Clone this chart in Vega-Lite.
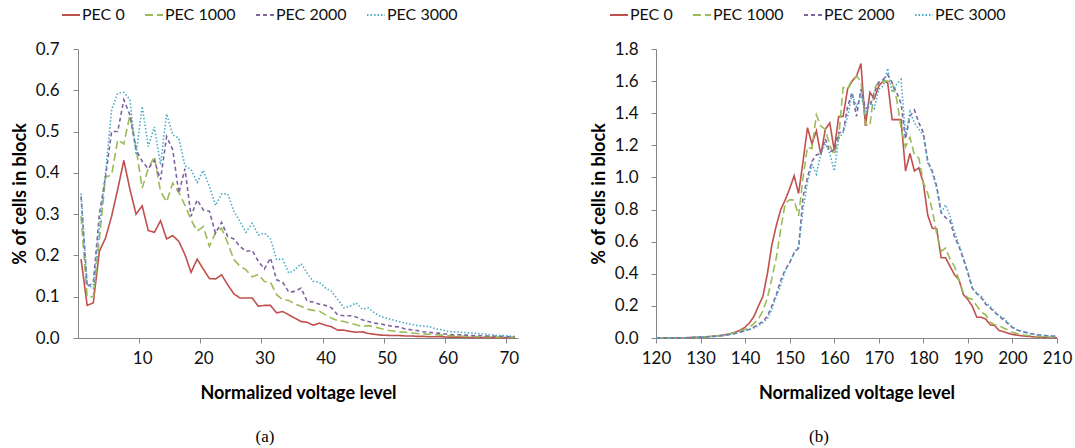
{
  "$schema": "https://vega.github.io/schema/vega-lite/v6.json",
  "background": "white",
  "padding": {"left": 11, "top": 5, "right": 3, "bottom": 2},
  "spacing": 71,
  "config": {
    "view": {"stroke": null},
    "font": "Lato",
    "axis": {
      "grid": false,
      "domainColor": "#868686",
      "tickColor": "#868686",
      "tickSize": 5,
      "labelFont": "Lato",
      "labelFontSize": 17,
      "labelColor": "#111111",
      "labelFlush": false,
      "titleFont": "Lato",
      "titleFontSize": 18,
      "titleFontWeight": "bold",
      "titleColor": "#000000"
    },
    "legend": {
      "labelFont": "Lato",
      "labelFontSize": 16,
      "labelColor": "#111111"
    }
  },
  "resolve": {
    "scale": {"color": "independent", "strokeDash": "independent"},
    "legend": {"color": "independent", "strokeDash": "independent"}
  },
  "datasets": {
    "a": [
      {"level": 0, "PEC 0": 0.191, "PEC 1000": 0.295, "PEC 2000": 0.343, "PEC 3000": 0.35},
      {"level": 1, "PEC 0": 0.079, "PEC 1000": 0.10, "PEC 2000": 0.125, "PEC 3000": 0.13},
      {"level": 2, "PEC 0": 0.085, "PEC 1000": 0.10, "PEC 2000": 0.133, "PEC 3000": 0.12},
      {"level": 3, "PEC 0": 0.21, "PEC 1000": 0.24, "PEC 2000": 0.30, "PEC 3000": 0.27},
      {"level": 4, "PEC 0": 0.242, "PEC 1000": 0.39, "PEC 2000": 0.39, "PEC 3000": 0.40},
      {"level": 5, "PEC 0": 0.295, "PEC 1000": 0.395, "PEC 2000": 0.50, "PEC 3000": 0.553},
      {"level": 6, "PEC 0": 0.36, "PEC 1000": 0.48, "PEC 2000": 0.50, "PEC 3000": 0.593},
      {"level": 7, "PEC 0": 0.43, "PEC 1000": 0.47, "PEC 2000": 0.577, "PEC 3000": 0.595},
      {"level": 8, "PEC 0": 0.36, "PEC 1000": 0.54, "PEC 2000": 0.54, "PEC 3000": 0.577},
      {"level": 9, "PEC 0": 0.30, "PEC 1000": 0.46, "PEC 2000": 0.456, "PEC 3000": 0.444},
      {"level": 10, "PEC 0": 0.32, "PEC 1000": 0.363, "PEC 2000": 0.428, "PEC 3000": 0.561},
      {"level": 11, "PEC 0": 0.26, "PEC 1000": 0.41, "PEC 2000": 0.41, "PEC 3000": 0.464},
      {"level": 12, "PEC 0": 0.256, "PEC 1000": 0.44, "PEC 2000": 0.43, "PEC 3000": 0.511},
      {"level": 13, "PEC 0": 0.284, "PEC 1000": 0.355, "PEC 2000": 0.383, "PEC 3000": 0.42},
      {"level": 14, "PEC 0": 0.24, "PEC 1000": 0.33, "PEC 2000": 0.488, "PEC 3000": 0.543},
      {"level": 15, "PEC 0": 0.248, "PEC 1000": 0.375, "PEC 2000": 0.456, "PEC 3000": 0.492},
      {"level": 16, "PEC 0": 0.234, "PEC 1000": 0.352, "PEC 2000": 0.351, "PEC 3000": 0.484},
      {"level": 17, "PEC 0": 0.202, "PEC 1000": 0.322, "PEC 2000": 0.41, "PEC 3000": 0.417},
      {"level": 18, "PEC 0": 0.159, "PEC 1000": 0.286, "PEC 2000": 0.295, "PEC 3000": 0.408},
      {"level": 19, "PEC 0": 0.191, "PEC 1000": 0.259, "PEC 2000": 0.335, "PEC 3000": 0.377},
      {"level": 20, "PEC 0": 0.167, "PEC 1000": 0.27, "PEC 2000": 0.31, "PEC 3000": 0.406},
      {"level": 21, "PEC 0": 0.144, "PEC 1000": 0.222, "PEC 2000": 0.307, "PEC 3000": 0.367},
      {"level": 22, "PEC 0": 0.143, "PEC 1000": 0.255, "PEC 2000": 0.254, "PEC 3000": 0.321},
      {"level": 23, "PEC 0": 0.153, "PEC 1000": 0.266, "PEC 2000": 0.28, "PEC 3000": 0.349},
      {"level": 24, "PEC 0": 0.129, "PEC 1000": 0.23, "PEC 2000": 0.246, "PEC 3000": 0.349},
      {"level": 25, "PEC 0": 0.107, "PEC 1000": 0.19, "PEC 2000": 0.24, "PEC 3000": 0.307},
      {"level": 26, "PEC 0": 0.097, "PEC 1000": 0.174, "PEC 2000": 0.222, "PEC 3000": 0.282},
      {"level": 27, "PEC 0": 0.097, "PEC 1000": 0.165, "PEC 2000": 0.21, "PEC 3000": 0.256},
      {"level": 28, "PEC 0": 0.097, "PEC 1000": 0.148, "PEC 2000": 0.212, "PEC 3000": 0.278},
      {"level": 29, "PEC 0": 0.077, "PEC 1000": 0.154, "PEC 2000": 0.186, "PEC 3000": 0.25},
      {"level": 30, "PEC 0": 0.079, "PEC 1000": 0.137, "PEC 2000": 0.167, "PEC 3000": 0.254},
      {"level": 31, "PEC 0": 0.079, "PEC 1000": 0.135, "PEC 2000": 0.194, "PEC 3000": 0.24},
      {"level": 32, "PEC 0": 0.061, "PEC 1000": 0.105, "PEC 2000": 0.141, "PEC 3000": 0.19},
      {"level": 33, "PEC 0": 0.064, "PEC 1000": 0.093, "PEC 2000": 0.135, "PEC 3000": 0.191},
      {"level": 34, "PEC 0": 0.056, "PEC 1000": 0.091, "PEC 2000": 0.111, "PEC 3000": 0.157},
      {"level": 35, "PEC 0": 0.048, "PEC 1000": 0.082, "PEC 2000": 0.113, "PEC 3000": 0.165},
      {"level": 36, "PEC 0": 0.040, "PEC 1000": 0.077, "PEC 2000": 0.121, "PEC 3000": 0.18},
      {"level": 37, "PEC 0": 0.038, "PEC 1000": 0.070, "PEC 2000": 0.089, "PEC 3000": 0.157},
      {"level": 38, "PEC 0": 0.031, "PEC 1000": 0.067, "PEC 2000": 0.087, "PEC 3000": 0.137},
      {"level": 39, "PEC 0": 0.036, "PEC 1000": 0.065, "PEC 2000": 0.082, "PEC 3000": 0.135},
      {"level": 40, "PEC 0": 0.031, "PEC 1000": 0.056, "PEC 2000": 0.079, "PEC 3000": 0.121},
      {"level": 41, "PEC 0": 0.027, "PEC 1000": 0.048, "PEC 2000": 0.073, "PEC 3000": 0.113},
      {"level": 42, "PEC 0": 0.019, "PEC 1000": 0.042, "PEC 2000": 0.056, "PEC 3000": 0.093},
      {"level": 43, "PEC 0": 0.019, "PEC 1000": 0.040, "PEC 2000": 0.054, "PEC 3000": 0.073},
      {"level": 44, "PEC 0": 0.016, "PEC 1000": 0.036, "PEC 2000": 0.054, "PEC 3000": 0.077},
      {"level": 45, "PEC 0": 0.014, "PEC 1000": 0.032, "PEC 2000": 0.051, "PEC 3000": 0.085},
      {"level": 46, "PEC 0": 0.015, "PEC 1000": 0.028, "PEC 2000": 0.044, "PEC 3000": 0.070},
      {"level": 47, "PEC 0": 0.011, "PEC 1000": 0.030, "PEC 2000": 0.040, "PEC 3000": 0.073},
      {"level": 48, "PEC 0": 0.009, "PEC 1000": 0.027, "PEC 2000": 0.036, "PEC 3000": 0.061},
      {"level": 49, "PEC 0": 0.007, "PEC 1000": 0.023, "PEC 2000": 0.034, "PEC 3000": 0.052},
      {"level": 50, "PEC 0": 0.0065, "PEC 1000": 0.019, "PEC 2000": 0.031, "PEC 3000": 0.048},
      {"level": 51, "PEC 0": 0.006, "PEC 1000": 0.017, "PEC 2000": 0.028, "PEC 3000": 0.044},
      {"level": 52, "PEC 0": 0.006, "PEC 1000": 0.015, "PEC 2000": 0.027, "PEC 3000": 0.040},
      {"level": 53, "PEC 0": 0.005, "PEC 1000": 0.014, "PEC 2000": 0.022, "PEC 3000": 0.036},
      {"level": 54, "PEC 0": 0.005, "PEC 1000": 0.012, "PEC 2000": 0.020, "PEC 3000": 0.033},
      {"level": 55, "PEC 0": 0.004, "PEC 1000": 0.011, "PEC 2000": 0.018, "PEC 3000": 0.030},
      {"level": 56, "PEC 0": 0.004, "PEC 1000": 0.010, "PEC 2000": 0.015, "PEC 3000": 0.029},
      {"level": 57, "PEC 0": 0.003, "PEC 1000": 0.009, "PEC 2000": 0.014, "PEC 3000": 0.028},
      {"level": 58, "PEC 0": 0.003, "PEC 1000": 0.008, "PEC 2000": 0.012, "PEC 3000": 0.022},
      {"level": 59, "PEC 0": 0.003, "PEC 1000": 0.007, "PEC 2000": 0.011, "PEC 3000": 0.020},
      {"level": 60, "PEC 0": 0.002, "PEC 1000": 0.006, "PEC 2000": 0.009, "PEC 3000": 0.016},
      {"level": 61, "PEC 0": 0.002, "PEC 1000": 0.005, "PEC 2000": 0.008, "PEC 3000": 0.015},
      {"level": 62, "PEC 0": 0.002, "PEC 1000": 0.005, "PEC 2000": 0.008, "PEC 3000": 0.014},
      {"level": 63, "PEC 0": 0.002, "PEC 1000": 0.004, "PEC 2000": 0.007, "PEC 3000": 0.013},
      {"level": 64, "PEC 0": 0.001, "PEC 1000": 0.004, "PEC 2000": 0.006, "PEC 3000": 0.012},
      {"level": 65, "PEC 0": 0.001, "PEC 1000": 0.003, "PEC 2000": 0.006, "PEC 3000": 0.011},
      {"level": 66, "PEC 0": 0.001, "PEC 1000": 0.003, "PEC 2000": 0.005, "PEC 3000": 0.010},
      {"level": 67, "PEC 0": 0.001, "PEC 1000": 0.003, "PEC 2000": 0.005, "PEC 3000": 0.008},
      {"level": 68, "PEC 0": 0.001, "PEC 1000": 0.002, "PEC 2000": 0.004, "PEC 3000": 0.006},
      {"level": 69, "PEC 0": 0.001, "PEC 1000": 0.002, "PEC 2000": 0.004, "PEC 3000": 0.006},
      {"level": 70, "PEC 0": 0.001, "PEC 1000": 0.002, "PEC 2000": 0.003, "PEC 3000": 0.005},
      {"level": 71, "PEC 0": 0.001, "PEC 1000": 0.002, "PEC 2000": 0.003, "PEC 3000": 0.004}
    ],
    "b": [
      {"level": 120, "PEC 0": 0, "PEC 1000": 0, "PEC 2000": 0, "PEC 3000": 0},
      {"level": 121, "PEC 0": 0, "PEC 1000": 0, "PEC 2000": 0, "PEC 3000": 0},
      {"level": 122, "PEC 0": 0, "PEC 1000": 0, "PEC 2000": 0, "PEC 3000": 0},
      {"level": 123, "PEC 0": 0, "PEC 1000": 0, "PEC 2000": 0, "PEC 3000": 0},
      {"level": 124, "PEC 0": 0.001, "PEC 1000": 0.001, "PEC 2000": 0.001, "PEC 3000": 0.001},
      {"level": 125, "PEC 0": 0.001, "PEC 1000": 0.001, "PEC 2000": 0.001, "PEC 3000": 0.001},
      {"level": 126, "PEC 0": 0.002, "PEC 1000": 0.002, "PEC 2000": 0.001, "PEC 3000": 0.001},
      {"level": 127, "PEC 0": 0.002, "PEC 1000": 0.002, "PEC 2000": 0.002, "PEC 3000": 0.002},
      {"level": 128, "PEC 0": 0.003, "PEC 1000": 0.003, "PEC 2000": 0.003, "PEC 3000": 0.003},
      {"level": 129, "PEC 0": 0.004, "PEC 1000": 0.004, "PEC 2000": 0.004, "PEC 3000": 0.004},
      {"level": 130, "PEC 0": 0.005, "PEC 1000": 0.005, "PEC 2000": 0.005, "PEC 3000": 0.005},
      {"level": 131, "PEC 0": 0.007, "PEC 1000": 0.007, "PEC 2000": 0.006, "PEC 3000": 0.006},
      {"level": 132, "PEC 0": 0.009, "PEC 1000": 0.009, "PEC 2000": 0.008, "PEC 3000": 0.008},
      {"level": 133, "PEC 0": 0.011, "PEC 1000": 0.012, "PEC 2000": 0.010, "PEC 3000": 0.010},
      {"level": 134, "PEC 0": 0.014, "PEC 1000": 0.015, "PEC 2000": 0.012, "PEC 3000": 0.012},
      {"level": 135, "PEC 0": 0.018, "PEC 1000": 0.019, "PEC 2000": 0.015, "PEC 3000": 0.015},
      {"level": 136, "PEC 0": 0.023, "PEC 1000": 0.024, "PEC 2000": 0.019, "PEC 3000": 0.019},
      {"level": 137, "PEC 0": 0.030, "PEC 1000": 0.030, "PEC 2000": 0.024, "PEC 3000": 0.024},
      {"level": 138, "PEC 0": 0.038, "PEC 1000": 0.037, "PEC 2000": 0.030, "PEC 3000": 0.030},
      {"level": 139, "PEC 0": 0.050, "PEC 1000": 0.045, "PEC 2000": 0.037, "PEC 3000": 0.037},
      {"level": 140, "PEC 0": 0.068, "PEC 1000": 0.055, "PEC 2000": 0.045, "PEC 3000": 0.045},
      {"level": 141, "PEC 0": 0.095, "PEC 1000": 0.068, "PEC 2000": 0.055, "PEC 3000": 0.052},
      {"level": 142, "PEC 0": 0.135, "PEC 1000": 0.09, "PEC 2000": 0.068, "PEC 3000": 0.063},
      {"level": 143, "PEC 0": 0.20, "PEC 1000": 0.12, "PEC 2000": 0.085, "PEC 3000": 0.078},
      {"level": 144, "PEC 0": 0.26, "PEC 1000": 0.17, "PEC 2000": 0.105, "PEC 3000": 0.095},
      {"level": 145, "PEC 0": 0.40, "PEC 1000": 0.25, "PEC 2000": 0.135, "PEC 3000": 0.12},
      {"level": 146, "PEC 0": 0.58, "PEC 1000": 0.37, "PEC 2000": 0.20, "PEC 3000": 0.18},
      {"level": 147, "PEC 0": 0.70, "PEC 1000": 0.50, "PEC 2000": 0.27, "PEC 3000": 0.26},
      {"level": 148, "PEC 0": 0.80, "PEC 1000": 0.68, "PEC 2000": 0.36, "PEC 3000": 0.33},
      {"level": 149, "PEC 0": 0.86, "PEC 1000": 0.84, "PEC 2000": 0.425, "PEC 3000": 0.42},
      {"level": 150, "PEC 0": 0.93, "PEC 1000": 0.86, "PEC 2000": 0.47, "PEC 3000": 0.47},
      {"level": 151, "PEC 0": 1.01, "PEC 1000": 0.86, "PEC 2000": 0.53, "PEC 3000": 0.53},
      {"level": 152, "PEC 0": 0.90, "PEC 1000": 0.76, "PEC 2000": 0.56, "PEC 3000": 0.57},
      {"level": 153, "PEC 0": 1.10, "PEC 1000": 1.00, "PEC 2000": 0.88, "PEC 3000": 0.80},
      {"level": 154, "PEC 0": 1.31, "PEC 1000": 1.19, "PEC 2000": 1.00, "PEC 3000": 0.97},
      {"level": 155, "PEC 0": 1.21, "PEC 1000": 1.18, "PEC 2000": 1.10, "PEC 3000": 1.08},
      {"level": 156, "PEC 0": 1.29, "PEC 1000": 1.39, "PEC 2000": 1.14, "PEC 3000": 1.02},
      {"level": 157, "PEC 0": 1.14, "PEC 1000": 1.32, "PEC 2000": 1.15, "PEC 3000": 1.15},
      {"level": 158, "PEC 0": 1.30, "PEC 1000": 1.30, "PEC 2000": 1.24, "PEC 3000": 1.21},
      {"level": 159, "PEC 0": 1.34, "PEC 1000": 1.20, "PEC 2000": 1.16, "PEC 3000": 1.15},
      {"level": 160, "PEC 0": 1.17, "PEC 1000": 1.14, "PEC 2000": 1.17, "PEC 3000": 1.04},
      {"level": 161, "PEC 0": 1.38, "PEC 1000": 1.25, "PEC 2000": 1.28, "PEC 3000": 1.24},
      {"level": 162, "PEC 0": 1.38, "PEC 1000": 1.56, "PEC 2000": 1.28, "PEC 3000": 1.28},
      {"level": 163, "PEC 0": 1.55, "PEC 1000": 1.55, "PEC 2000": 1.44, "PEC 3000": 1.38},
      {"level": 164, "PEC 0": 1.60, "PEC 1000": 1.61, "PEC 2000": 1.53, "PEC 3000": 1.52},
      {"level": 165, "PEC 0": 1.63, "PEC 1000": 1.63, "PEC 2000": 1.38, "PEC 3000": 1.44},
      {"level": 166, "PEC 0": 1.71, "PEC 1000": 1.60, "PEC 2000": 1.55, "PEC 3000": 1.52},
      {"level": 167, "PEC 0": 1.32, "PEC 1000": 1.33, "PEC 2000": 1.43, "PEC 3000": 1.39},
      {"level": 168, "PEC 0": 1.53, "PEC 1000": 1.32, "PEC 2000": 1.44, "PEC 3000": 1.48},
      {"level": 169, "PEC 0": 1.49, "PEC 1000": 1.55, "PEC 2000": 1.53, "PEC 3000": 1.43},
      {"level": 170, "PEC 0": 1.57, "PEC 1000": 1.60, "PEC 2000": 1.59, "PEC 3000": 1.55},
      {"level": 171, "PEC 0": 1.60, "PEC 1000": 1.60, "PEC 2000": 1.61, "PEC 3000": 1.57},
      {"level": 172, "PEC 0": 1.59, "PEC 1000": 1.60, "PEC 2000": 1.64, "PEC 3000": 1.68},
      {"level": 173, "PEC 0": 1.36, "PEC 1000": 1.59, "PEC 2000": 1.59, "PEC 3000": 1.53},
      {"level": 174, "PEC 0": 1.36, "PEC 1000": 1.49, "PEC 2000": 1.53, "PEC 3000": 1.58},
      {"level": 175, "PEC 0": 1.36, "PEC 1000": 1.31, "PEC 2000": 1.46, "PEC 3000": 1.61},
      {"level": 176, "PEC 0": 1.04, "PEC 1000": 1.19, "PEC 2000": 1.24, "PEC 3000": 1.26},
      {"level": 177, "PEC 0": 1.15, "PEC 1000": 1.25, "PEC 2000": 1.38, "PEC 3000": 1.41},
      {"level": 178, "PEC 0": 1.04, "PEC 1000": 1.14, "PEC 2000": 1.42, "PEC 3000": 1.34},
      {"level": 179, "PEC 0": 1.06, "PEC 1000": 1.12, "PEC 2000": 1.34, "PEC 3000": 1.30},
      {"level": 180, "PEC 0": 0.965, "PEC 1000": 0.97, "PEC 2000": 1.28, "PEC 3000": 1.26},
      {"level": 181, "PEC 0": 0.764, "PEC 1000": 0.90, "PEC 2000": 1.10, "PEC 3000": 1.09},
      {"level": 182, "PEC 0": 0.685, "PEC 1000": 0.80, "PEC 2000": 1.04, "PEC 3000": 1.03},
      {"level": 183, "PEC 0": 0.68, "PEC 1000": 0.65, "PEC 2000": 0.945, "PEC 3000": 0.93},
      {"level": 184, "PEC 0": 0.50, "PEC 1000": 0.54, "PEC 2000": 0.78, "PEC 3000": 0.78},
      {"level": 185, "PEC 0": 0.50, "PEC 1000": 0.56, "PEC 2000": 0.75, "PEC 3000": 0.83},
      {"level": 186, "PEC 0": 0.446, "PEC 1000": 0.49, "PEC 2000": 0.73, "PEC 3000": 0.76},
      {"level": 187, "PEC 0": 0.394, "PEC 1000": 0.446, "PEC 2000": 0.63, "PEC 3000": 0.66},
      {"level": 188, "PEC 0": 0.363, "PEC 1000": 0.36, "PEC 2000": 0.57, "PEC 3000": 0.58},
      {"level": 189, "PEC 0": 0.27, "PEC 1000": 0.28, "PEC 2000": 0.49, "PEC 3000": 0.50},
      {"level": 190, "PEC 0": 0.239, "PEC 1000": 0.25, "PEC 2000": 0.405, "PEC 3000": 0.415},
      {"level": 191, "PEC 0": 0.197, "PEC 1000": 0.24, "PEC 2000": 0.31, "PEC 3000": 0.31},
      {"level": 192, "PEC 0": 0.129, "PEC 1000": 0.20, "PEC 2000": 0.276, "PEC 3000": 0.28},
      {"level": 193, "PEC 0": 0.129, "PEC 1000": 0.16, "PEC 2000": 0.25, "PEC 3000": 0.26},
      {"level": 194, "PEC 0": 0.118, "PEC 1000": 0.145, "PEC 2000": 0.21, "PEC 3000": 0.22},
      {"level": 195, "PEC 0": 0.083, "PEC 1000": 0.098, "PEC 2000": 0.187, "PEC 3000": 0.197},
      {"level": 196, "PEC 0": 0.077, "PEC 1000": 0.083, "PEC 2000": 0.16, "PEC 3000": 0.166},
      {"level": 197, "PEC 0": 0.046, "PEC 1000": 0.077, "PEC 2000": 0.135, "PEC 3000": 0.139},
      {"level": 198, "PEC 0": 0.040, "PEC 1000": 0.062, "PEC 2000": 0.114, "PEC 3000": 0.125},
      {"level": 199, "PEC 0": 0.030, "PEC 1000": 0.050, "PEC 2000": 0.090, "PEC 3000": 0.095},
      {"level": 200, "PEC 0": 0.022, "PEC 1000": 0.035, "PEC 2000": 0.065, "PEC 3000": 0.070},
      {"level": 201, "PEC 0": 0.018, "PEC 1000": 0.028, "PEC 2000": 0.050, "PEC 3000": 0.052},
      {"level": 202, "PEC 0": 0.014, "PEC 1000": 0.022, "PEC 2000": 0.042, "PEC 3000": 0.043},
      {"level": 203, "PEC 0": 0.011, "PEC 1000": 0.017, "PEC 2000": 0.035, "PEC 3000": 0.035},
      {"level": 204, "PEC 0": 0.009, "PEC 1000": 0.014, "PEC 2000": 0.028, "PEC 3000": 0.028},
      {"level": 205, "PEC 0": 0.007, "PEC 1000": 0.011, "PEC 2000": 0.022, "PEC 3000": 0.023},
      {"level": 206, "PEC 0": 0.005, "PEC 1000": 0.009, "PEC 2000": 0.019, "PEC 3000": 0.019},
      {"level": 207, "PEC 0": 0.004, "PEC 1000": 0.007, "PEC 2000": 0.016, "PEC 3000": 0.016},
      {"level": 208, "PEC 0": 0.003, "PEC 1000": 0.006, "PEC 2000": 0.014, "PEC 3000": 0.014},
      {"level": 209, "PEC 0": 0.002, "PEC 1000": 0.005, "PEC 2000": 0.012, "PEC 3000": 0.012},
      {"level": 210, "PEC 0": 0.002, "PEC 1000": 0.004, "PEC 2000": 0.010, "PEC 3000": 0.010}
    ]
  },
  "hconcat": [
    {
      "width": 440,
      "height": 289,
      "title": {"text": "(a)", "orient": "bottom", "frame": "bounds", "anchor": "middle", "font": "Liberation Serif", "fontSize": 17, "fontWeight": "normal", "color": "#000000", "offset": 27},
      "data": {"name": "a"},
      "transform": [{"fold": ["PEC 0", "PEC 1000", "PEC 2000", "PEC 3000"], "as": ["series", "pct"]}],
      "mark": {"type": "line", "strokeWidth": 1.6},
      "encoding": {
        "x": {"field": "level", "type": "quantitative",
              "scale": {"domain": [-0.5, 71.5], "nice": false, "zero": false},
              "axis": {"values": [10, 20, 30, 40, 50, 60, 70], "title": "Normalized voltage level", "labelPadding": 7, "titlePadding": 18, "tickOffset": -3, "labelOffset": 3}},
        "y": {"field": "pct", "type": "quantitative",
              "scale": {"domain": [0, 0.7], "nice": false},
              "axis": {"values": [0, 0.1, 0.2, 0.3, 0.4, 0.5, 0.6, 0.7], "format": ".1f", "title": "% of cells in block", "labelPadding": 14, "titlePadding": 6}},
        "color": {"field": "series", "type": "nominal",
                  "scale": {"domain": ["PEC 0", "PEC 1000", "PEC 2000", "PEC 3000"], "range": ["#C0504D", "#9BBB59", "#8064A2", "#4BACC6"]},
                  "legend": {"title": null, "orient": "none", "legendX": -17, "legendY": -44, "direction": "horizontal", "symbolType": "stroke", "symbolSize": 324, "symbolStrokeWidth": 2, "columnPadding": 16, "labelOffset": 1}},
        "strokeDash": {"field": "series", "type": "nominal",
                  "scale": {"domain": ["PEC 0", "PEC 1000", "PEC 2000", "PEC 3000"], "range": [[1, 0], [8, 4], [4, 3], [1.5, 2]]},
                  "legend": {"title": null, "orient": "none", "legendX": -17, "legendY": -44, "direction": "horizontal", "symbolType": "stroke", "symbolSize": 324, "symbolStrokeWidth": 2, "columnPadding": 16, "labelOffset": 1}}
      }
    },
    {
      "width": 401,
      "height": 289,
      "title": {"text": "(b)", "orient": "bottom", "frame": "bounds", "anchor": "middle", "font": "Liberation Serif", "fontSize": 17, "fontWeight": "normal", "color": "#000000", "offset": 27, "dx": -12},
      "data": {"name": "b"},
      "transform": [{"fold": ["PEC 0", "PEC 1000", "PEC 2000", "PEC 3000"], "as": ["series", "pct"]}],
      "mark": {"type": "line", "strokeWidth": 1.6},
      "encoding": {
        "x": {"field": "level", "type": "quantitative",
              "scale": {"domain": [120, 210], "nice": false, "zero": false},
              "axis": {"values": [120, 130, 140, 150, 160, 170, 180, 190, 200, 210], "title": "Normalized voltage level", "labelPadding": 7, "titlePadding": 18}},
        "y": {"field": "pct", "type": "quantitative",
              "scale": {"domain": [0, 1.8], "nice": false},
              "axis": {"values": [0, 0.2, 0.4, 0.6, 0.8, 1.0, 1.2, 1.4, 1.6, 1.8], "format": ".1f", "title": "% of cells in block", "labelPadding": 13, "titlePadding": 6}},
        "color": {"field": "series", "type": "nominal",
                  "scale": {"domain": ["PEC 0", "PEC 1000", "PEC 2000", "PEC 3000"], "range": ["#C0504D", "#9BBB59", "#8064A2", "#4BACC6"]},
                  "legend": {"title": null, "orient": "none", "legendX": -47, "legendY": -44, "direction": "horizontal", "symbolType": "stroke", "symbolSize": 324, "symbolStrokeWidth": 2, "columnPadding": 16, "labelOffset": 1}},
        "strokeDash": {"field": "series", "type": "nominal",
                  "scale": {"domain": ["PEC 0", "PEC 1000", "PEC 2000", "PEC 3000"], "range": [[1, 0], [8, 4], [4, 3], [1.5, 2]]},
                  "legend": {"title": null, "orient": "none", "legendX": -47, "legendY": -44, "direction": "horizontal", "symbolType": "stroke", "symbolSize": 324, "symbolStrokeWidth": 2, "columnPadding": 16, "labelOffset": 1}}
      }
    }
  ]
}
